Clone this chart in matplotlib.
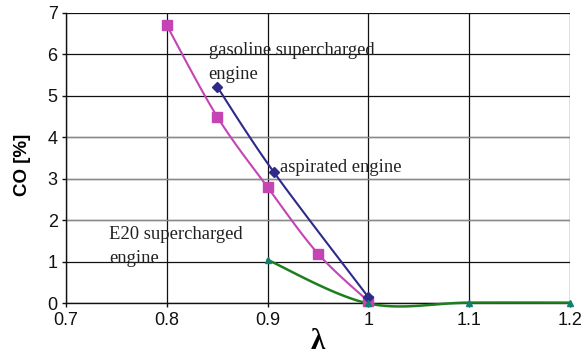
import numpy as np
import matplotlib
matplotlib.use("Agg")
import matplotlib.pyplot as plt

# Data
lam_pink = [0.8, 0.85, 0.9, 0.95, 1.0]
co_pink = [6.7, 4.5, 2.8, 1.2, 0.05]

lam_navy = [0.85, 0.906, 1.0]
co_navy = [5.22, 3.17, 0.15]

lam_green = [0.9, 1.0, 1.1, 1.2]
co_green = [1.05, 0.0, 0.02, 0.02]

xticks = [0.7, 0.8, 0.9, 1.0, 1.1, 1.2]
xticklabels = ["0.7", "0.8", "0.9", "1", "1.1", "1.2"]
yticks = [0, 1, 2, 3, 4, 5, 6, 7]


def smooth(x, y, n=30):
    """Excel-like smoothed line (Catmull-Rom) through the data points."""
    x = np.asarray(x, float)
    y = np.asarray(y, float)
    if len(x) < 3:
        return x, y
    P = np.column_stack([x, y])
    P = np.vstack([P[0], P, P[-1]])
    out = []
    t = np.linspace(0, 1, n)
    for i in range(1, len(P) - 2):
        p0, p1, p2, p3 = P[i - 1], P[i], P[i + 1], P[i + 2]
        c1 = p1 + (p2 - p0) / 6.0
        c2 = p2 - (p3 - p1) / 6.0
        seg = ((1 - t) ** 3)[:, None] * p1 + (3 * (1 - t) ** 2 * t)[:, None] * c1 \
            + (3 * (1 - t) * t ** 2)[:, None] * c2 + (t ** 3)[:, None] * p2
        out.append(seg if i == 1 else seg[1:])
    S = np.vstack(out)
    return S[:, 0], S[:, 1]


fig = plt.figure(figsize=(5.87, 3.57), dpi=100)
ax = fig.add_axes([0.1124, 0.150, 0.8586, 0.814])

pink = "#C444B4"
navy = "#2E2A8A"
green = "#1E7E1E"
teal = "#108070"

xs, ys = smooth(lam_pink, co_pink)
ax.plot(xs, ys, color=pink, lw=1.5, zorder=3, clip_on=False)
ax.plot(lam_pink, co_pink, ls="none", marker="s", ms=7, color=pink, zorder=4, clip_on=False)

xs, ys = smooth(lam_navy, co_navy)
ax.plot(xs, ys, color=navy, lw=1.5, zorder=3, clip_on=False)
ax.plot(lam_navy, co_navy, ls="none", marker="D", ms=5.5, color=navy, zorder=4, clip_on=False)

xs, ys = smooth(lam_green, co_green)
ax.plot(xs, ys, color=green, lw=1.8, zorder=3, clip_on=False)
ax.plot(lam_green, co_green, ls="none", marker="^", ms=5, color=teal, zorder=5, clip_on=False)

ax.set_xlim(0.7, 1.2)
ax.set_ylim(0, 7)
ax.set_xticks(xticks)
ax.set_xticklabels(xticklabels)
ax.set_yticks(yticks)
ax.grid(True, color="#111111", lw=0.9)
for yv in (2, 3, 4):
    ax.axhline(yv, color="#8a8a8a", lw=0.9, zorder=0.6)
ax.set_axisbelow(True)
for s in ax.spines.values():
    s.set_color("#111111")
    s.set_linewidth(1.0)
ax.spines["top"].set_visible(False)
ax.spines["right"].set_visible(False)
ax.tick_params(direction="out", length=3, width=1, labelsize=13, pad=3,
               colors="#111111")
for lbl in ax.get_xticklabels() + ax.get_yticklabels():
    lbl.set_family("Liberation Sans")

ax.set_xlabel("λ", fontsize=21, fontweight="bold", family="Liberation Serif")
ax.xaxis.set_label_coords(0.5, -0.085)
ax.set_ylabel("CO [%]", fontsize=13.5, fontweight="bold", family="Liberation Sans")
ax.yaxis.set_label_coords(-0.069, 0.476)

serif = dict(family="Liberation Serif", fontsize=13.4, color="#222222",
             linespacing=1.55, va="top", ha="left")
ax.text(0.8415, 6.29, "gasoline supercharged\nengine", **serif, zorder=6)
ax.text(0.912, 3.48, "aspirated engine", **serif, zorder=6)
ax.text(0.7425, 1.87, "E20 supercharged\nengine", **serif, zorder=6)

fig.savefig("out.png", dpi=100)
